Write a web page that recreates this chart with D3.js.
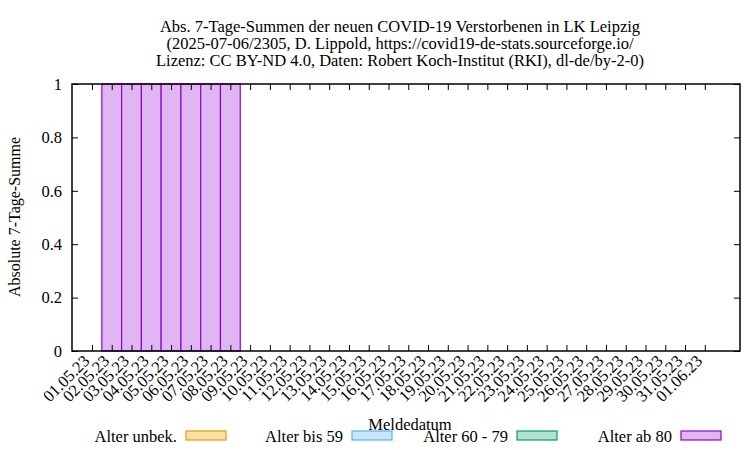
<!DOCTYPE html>
<html><head><meta charset="utf-8">
<script src="https://cdn.jsdelivr.net/npm/d3@7"></script>
<style>body{margin:0;background:#fff}svg{display:block}text{font-family:"Liberation Serif","Times New Roman",serif;fill:#000}</style>
</head><body>
<script>
const dates = ["01.05.23","02.05.23","03.05.23","04.05.23","05.05.23","06.05.23","07.05.23","08.05.23","09.05.23","10.05.23","11.05.23","12.05.23","13.05.23","14.05.23","15.05.23","16.05.23","17.05.23","18.05.23","19.05.23","20.05.23","21.05.23","22.05.23","23.05.23","24.05.23","25.05.23","26.05.23","27.05.23","28.05.23","29.05.23","30.05.23","31.05.23","01.06.23"];
const alterUnbek = [0,0,0,0,0,0,0,0,0,0,0,0,0,0,0,0,0,0,0,0,0,0,0,0,0,0,0,0,0,0,0,0];
const alterBis59 = [0,0,0,0,0,0,0,0,0,0,0,0,0,0,0,0,0,0,0,0,0,0,0,0,0,0,0,0,0,0,0,0];
const alter60bis79 = [0,0,0,0,0,0,0,0,0,0,0,0,0,0,0,0,0,0,0,0,0,0,0,0,0,0,0,0,0,0,0,0];
const alterAb80 = [0,1,1,1,1,1,1,1,0,0,0,0,0,0,0,0,0,0,0,0,0,0,0,0,0,0,0,0,0,0,0,0];
const yTicks = [0,0.2,0.4,0.6,0.8,1];
const seriesNames = ["Alter unbek.","Alter bis 59","Alter 60 - 79","Alter ab 80"];
const seriesData = [alterUnbek, alterBis59, alter60bis79, alterAb80];
const fills = ["#fbe0a6","#c8e6f8","#b2e2cd","#dfb6f1"];
const strokes = ["#e69f00","#56b4e9","#009e73","#9400d3"];
const titleLines = ["Abs. 7-Tage-Summen der neuen COVID-19 Verstorbenen in LK Leipzig","(2025-07-06/2305, D. Lippold, https://covid19-de-stats.sourceforge.io/","Lizenz: CC BY-ND 4.0, Daten: Robert Koch-Institut (RKI), dl-de/by-2-0)"];

const W=750,H=450, L=72,R=740,T=84,B=351;
const FS=16.5;
const svg=d3.select("body").append("svg").attr("width",W).attr("height",H);
const x=d3.scaleLinear().domain([-1.01,32.78]).range([L,R]);
const y=d3.scaleLinear().domain([0,1]).range([B,T]);
const bw = x(1)-x(0);

// stacked bars
const rows = dates.map((d,i)=>{const o={i}; seriesNames.forEach((n,k)=>o[n]=seriesData[k][i]); return o;});
const stack = d3.stack().keys(seriesNames)(rows);
stack.forEach((s,k)=>{
  svg.append("g").selectAll("rect").data(s.filter(d=>d[1]-d[0]>0)).join("rect")
    .attr("x",d=>x(d.data.i)-bw/2).attr("width",bw)
    .attr("y",d=>y(d[1])).attr("height",d=>y(d[0])-y(d[1]))
    .attr("fill",fills[k]).attr("stroke",strokes[k]).attr("stroke-width",1.2);
});

// axes
const tickIdx = d3.range(dates.length);
const gx=svg.append("g").attr("transform",`translate(0,${B})`)
  .call(d3.axisBottom(x).tickValues(tickIdx).tickSize(-6).tickFormat(i=>dates[i]));
gx.selectAll("text").attr("font-size",FS).attr("text-anchor","end")
  .attr("y",0).attr("dy",0).attr("transform","translate(-2,11) rotate(-45)");
const gxt=svg.append("g").attr("transform",`translate(0,${T})`)
  .call(d3.axisTop(x).tickValues(tickIdx).tickSize(-6).tickFormat(""));
const gy=svg.append("g").attr("transform",`translate(${L},0)`)
  .call(d3.axisLeft(y).tickValues(yTicks).tickSize(-6).tickFormat(d3.format("~g")));
gy.selectAll("text").attr("font-size",FS).attr("x",-10);
const gyr=svg.append("g").attr("transform",`translate(${R},0)`)
  .call(d3.axisRight(y).tickValues(yTicks).tickSize(-6).tickFormat(""));
[gx,gxt,gy,gyr].forEach(g=>{g.select(".domain").remove(); g.selectAll("line").attr("stroke","#000");});
svg.append("rect").attr("x",L).attr("y",T).attr("width",R-L).attr("height",B-T)
  .attr("fill","none").attr("stroke","#000").attr("stroke-width",1.5);

// title
svg.append("g").selectAll("text").data(titleLines).join("text")
  .attr("x",400).attr("y",(d,i)=>32+i*17).attr("text-anchor","middle").attr("font-size",FS).text(d=>d);

// axis labels
svg.append("text").attr("transform","translate(20,217) rotate(-90)").attr("text-anchor","middle")
  .attr("font-size",16).text("Absolute 7-Tage-Summe");
svg.append("text").attr("x",410).attr("y",430).attr("text-anchor","middle").attr("font-size",FS).text("Meldedatum");

// legend
const legTextX=[177,343,508,672];
const lg=svg.append("g");
seriesNames.forEach((n,k)=>{
  lg.append("text").attr("x",legTextX[k]).attr("y",442).attr("text-anchor","end").attr("font-size",FS).text(n);
  lg.append("rect").attr("x",legTextX[k]+9).attr("y",431).attr("width",40).attr("height",9)
    .attr("fill",fills[k]).attr("stroke",strokes[k]).attr("stroke-width",1.2);
});
</script>
</body></html>
